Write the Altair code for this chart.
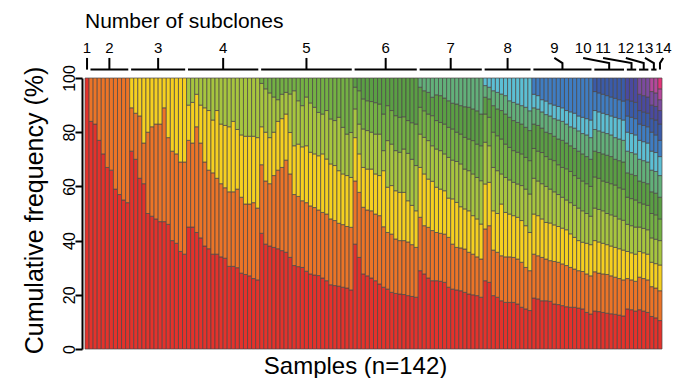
import altair as alt
import pandas as pd

# cumulative tops (%) of subclones 1..k-1 for each sample, grouped by number of subclones k
g1 = [[]]
g2 = [[84], [83], [77], [72], [67], [66], [59], [57], [55], [54]]
g3 = [[73, 89], [70, 87], [63, 86], [61, 76], [50, 80], [49, 82], [48, 83], [47, 83],
      [47, 89], [46, 78], [40, 73], [39, 72], [36, 69], [35, 69]]
g4 = [[45, 77, 90], [45, 76, 91], [43, 82, 94], [41, 76, 90], [38, 69, 89], [37, 66, 88],
      [35, 65, 84.5], [35, 63, 88], [34, 61, 83], [33.5, 59.5, 82.5], [30.5, 58, 82],
      [30.5, 58, 84], [30, 59, 81], [28, 56, 79], [27.5, 53.5, 78.5], [27, 53.5, 78.5],
      [26, 54, 78.5], [25.5, 52, 78]]
g5 = [[42.7, 68, 82, 98], [38.7, 62, 80, 96], [38, 61, 78, 94.5], [37.5, 64, 80, 93],
      [37, 66, 84, 92], [36.3, 67, 85, 94], [35.7, 69.7, 86.7, 94.7], [33.8, 64.6, 79.9, 94.1],
      [30.8, 57, 75, 95.3], [30.4, 56.3, 75.6, 91.6], [30.1, 54.7, 74.6, 89.8], [28.7, 54, 75, 93],
      [27.7, 52.8, 72.6, 90.8], [27.3, 52.2, 72, 89.2], [27.1, 51.3, 71.3, 87.3],
      [26.2, 50.4, 72, 86.7], [25.2, 49.8, 70.1, 88], [23.7, 48, 68.3, 84.9],
      [23.4, 47.4, 67.7, 84.3], [23.2, 46.4, 65.8, 85.5], [22.8, 45.9, 64.6, 81.8],
      [22.5, 45.2, 64, 79.3], [21.8, 44.9, 63.3, 79.9]]
g6 = [[38.7, 62, 78, 88.6, 96.6], [33.8, 57.8, 72, 83, 95.3], [27.7, 52.3, 67, 81.2, 92.3],
      [27, 51.3, 66.4, 80.6, 91.6], [26.2, 51, 66.4, 80, 91.3], [25.2, 49.8, 64.6, 79.3, 90.9],
      [24, 49.2, 64, 79.3, 90.4], [22.8, 45.1, 65.8, 73.2, 86.7], [22.1, 43, 59.7, 76.9, 89.8],
      [20.9, 42.4, 60.3, 75.6, 88], [20.5, 40.6, 58.4, 73.2, 86.1], [20.3, 40, 57.8, 72.6, 85.5],
      [20.1, 40, 57.8, 73.8, 85.7], [19.7, 39.5, 54.7, 72.2, 84.3], [19.4, 38.5, 53, 70, 83.5],
      [19.1, 37.5, 51, 67.7, 83]]
g7 = [[28.9, 48.6, 67, 79.3, 89.2, 96.6], [27.7, 45.5, 64.6, 78.1, 87.9, 95.3],
      [26.2, 44.9, 62.7, 76.9, 86.7, 94.7], [25.2, 43.7, 61.9, 75, 86.1, 92.9],
      [25.2, 43, 59.7, 73.8, 84.3, 93.8], [25, 42.7, 59, 73.2, 83.6, 93.5],
      [24.6, 42.4, 58.4, 72, 83, 92.6], [22.8, 41.2, 55.7, 70.7, 81.8, 91.6],
      [22.1, 38.7, 55.4, 69.7, 81.2, 90.7], [21.8, 37.5, 54.1, 69.2, 80, 90.4],
      [21.5, 37.3, 52.5, 68.3, 79.3, 89.8], [20.9, 36.9, 51.7, 66.4, 78.1, 89.4],
      [20.3, 35.7, 51, 65.8, 77.5, 89.2], [20, 35, 49.2, 64.6, 76.9, 88.6],
      [19.7, 34, 48, 63.3, 75.6, 87.9], [19.1, 33.2, 46.1, 62.1, 75, 86.7]]
g8 = [[25.2, 44.3, 60.9, 76.3, 86.7, 92.9, 97.2], [24.6, 45.5, 61.5, 75, 85.5, 92.3, 96.6],
      [19.7, 36.5, 51, 67, 80, 89.8, 95.3], [19.1, 35.7, 50, 65.8, 78.7, 88.6, 94.7],
      [17.8, 34.4, 53.5, 64.6, 77.5, 88, 94.1], [17.2, 34, 50.4, 63.3, 75.6, 86.7, 93.5],
      [17.2, 34, 49.8, 62.4, 74.4, 85.5, 91.6], [17.2, 33.8, 49.2, 61.5, 73.2, 84.3, 91],
      [16.6, 33.2, 48.6, 60.9, 72.6, 83.6, 90.4], [15.4, 32, 47.4, 60.3, 72, 83, 89.8],
      [14.8, 30.1, 45.5, 59, 70.7, 81.8, 89.2], [14.2, 28.9, 43, 57.2, 69.5, 80.6, 87.9]]
g9 = [[18.8, 35, 49.8, 63, 74, 83, 89, 94], [18.5, 34.4, 49.2, 62, 73, 82.5, 88.5, 93.5],
      [17.8, 33.8, 48, 61, 72.5, 81.5, 87.5, 92], [17.8, 33.2, 46.7, 60, 71, 80, 86.5, 91.5],
      [17.6, 32.6, 46.5, 59, 70, 79.5, 86, 90.5], [16.6, 32.3, 45.8, 58, 69.5, 78.5, 85, 90],
      [16.4, 32, 45.2, 57, 68, 77.5, 84.5, 89.5], [16, 31.4, 44.6, 56, 67, 77, 84, 89],
      [15.6, 30.8, 44, 55, 66.5, 76, 83, 88], [15.4, 30.1, 42.5, 54, 65.5, 75, 82, 87.5],
      [15.4, 29.5, 41.2, 53, 64, 74, 81.5, 87], [15.1, 28.9, 40, 52, 63, 73, 80.5, 86],
      [14.8, 28.6, 39.4, 51, 62, 72, 79.5, 85.5], [13.5, 27.7, 39, 50, 61, 71, 79, 85],
      [12.9, 27, 38.5, 49, 60, 70, 78, 84.5]]
g10 = [[14, 28.5, 40, 52, 63.5, 73, 81, 88, 95], [13.8, 28, 39.5, 51.5, 63, 72.5, 80.5, 87.5, 94.5],
       [13.5, 27.7, 39, 51, 62, 72, 80, 87, 94], [13.2, 27.5, 38.5, 50, 61.5, 71.5, 79.5, 86.5, 93.5],
       [13, 27, 38, 49.5, 61, 71, 79, 86, 93], [12.8, 26.5, 37.5, 49, 60.5, 70, 78, 85.5, 92.5],
       [12.5, 26, 37, 48, 59.5, 69.5, 77.5, 85, 92], [12.2, 25.5, 36.5, 47.5, 59, 69, 77, 84.5, 91.5]]
g11 = [[14.8, 26, 36, 46, 56, 65, 73, 80, 86, 92], [14.5, 25.5, 35.5, 45.5, 55.5, 64.5, 72.5, 79.5, 85.5, 91.5],
       [14, 25, 35, 45, 55, 64, 72, 79, 85, 91]]
g12 = [[14.5, 26.5, 36, 45, 54, 62, 70, 77, 83, 88, 94], [14, 26, 35.5, 44.5, 53.5, 61.5, 69.5, 76.5, 82.5, 87.5, 93.5],
       [13.5, 25.5, 35, 44, 53, 61, 69, 76, 82, 87, 93]]
g13 = [[12, 23, 32, 41, 50, 58, 66, 73, 80, 85, 90, 95],
       [11.5, 22.5, 31.5, 40.5, 49.5, 57.5, 65.5, 72.5, 79, 84.5, 89.5, 94.5]]
g14 = [[10.5, 21.5, 31, 40, 48, 56, 64, 71, 77, 83, 88, 92, 96]]

groups = [g1, g2, g3, g4, g5, g6, g7, g8, g9, g10, g11, g12, g13, g14]
colors = ["#E4322B", "#EC7427", "#F5D020", "#A7C53F", "#74B144", "#5A9F44", "#62B07A",
          "#5CBFD4", "#3F7DC2", "#3A5BA9", "#4A4A9F", "#7B4B9F", "#B5489C", "#E2357A"]
label_shift = [0, 0, 0, 0, 0, 0, 0, 0, -2, -6.4, -7, -4.4, -2.2, 0.8]

rows, brackets, leaders, labels = [], [], [], []
idx = 0
for gi, g in enumerate(groups):
    start = idx
    for tops in g:
        b = [0] + tops + [100]
        for k in range(len(b) - 1):
            rows.append({"s": idx, "s2": idx + 1, "y": b[k], "y2": b[k + 1], "clone": k + 1})
        idx += 1
    end = idx
    c = (start + end) / 2
    lx = c + label_shift[gi]
    if end - start > 1:
        brackets.append({"s": start + 0.35, "s2": end - 0.35, "y": 103.1})
    leaders += [{"g": gi, "o": 0, "s": lx, "y": 107.4},
                {"g": gi, "o": 1, "s": c, "y": 105.5 if lx != c else 107.4},
                {"g": gi, "o": 2, "s": c, "y": 103.1}]
    labels.append({"s": lx, "y": 109.3, "t": str(gi + 1)})

df = pd.DataFrame(rows)
FONT = "Liberation Sans"
xs = alt.Scale(domain=[0, 142], nice=False, zero=False)
ys = alt.Scale(domain=[0, 100], nice=False)
ax_x = alt.Axis(labels=False, ticks=False, domain=False, grid=False,
                title="Samples (n=142)", titleFontSize=24, titleFont=FONT,
                titleFontWeight="normal", titleColor="black",
                titleX=270, titleY=24, titleAlign="center", titleBaseline="alphabetic")
ax_y = alt.Axis(values=[0, 20, 40, 60, 80, 100], grid=False,
                domainColor="black", domainWidth=2, tickColor="black",
                tickWidth=2, tickSize=7, labelAngle=270, labelAlign="center",
                labelBaseline="alphabetic", labelPadding=1, labelFontSize=16,
                labelFont=FONT, labelColor="black", offset=3,
                title="Cumulative frequency (%)", titleFontSize=25,
                titleFont=FONT, titleFontWeight="normal", titleColor="black",
                titleX=-40, titleY=132, titleBaseline="alphabetic")
X = alt.X("s:Q", scale=xs, axis=ax_x, title="Samples (n=142)")
Y = alt.Y("y:Q", scale=ys, axis=ax_y, title="Cumulative frequency (%)")

bars = alt.Chart(df).mark_bar(stroke="#4a4646", strokeWidth=0.7).encode(
    x=X, x2="s2:Q", y=Y, y2="y2:Q",
    color=alt.Color("clone:O", scale=alt.Scale(domain=list(range(1, 15)), range=colors), legend=None),
)

br = alt.Chart(pd.DataFrame(brackets)).mark_rule(color="black", strokeWidth=2).encode(
    x=X, x2="s2:Q", y=Y)

ld = alt.Chart(pd.DataFrame(leaders)).mark_line(color="black", strokeWidth=2).encode(
    x=X, y=Y, detail="g:N", order="o:Q")

lb = alt.Chart(pd.DataFrame(labels)).mark_text(fontSize=15, font=FONT, baseline="alphabetic",
                                               align="center", color="black").encode(
    x=X, y=Y, text="t:N")

head = alt.Chart(pd.DataFrame({"s": [0], "y": [118.5], "t": ["Number of subclones"]})).mark_text(
    fontSize=21, font=FONT, baseline="alphabetic", align="left", color="black").encode(
    x=X, y=Y, text="t:N")

chart = alt.layer(bars, br, ld, lb, head).properties(
    width=577, height=271,
    autosize=alt.AutoSizeParams(type="none"),
    padding={"left": 77, "top": 70, "right": 10, "bottom": 29},
).configure_view(stroke=None)

chart.save("out.html", embed_options={"renderer": "svg", "actions": False})
